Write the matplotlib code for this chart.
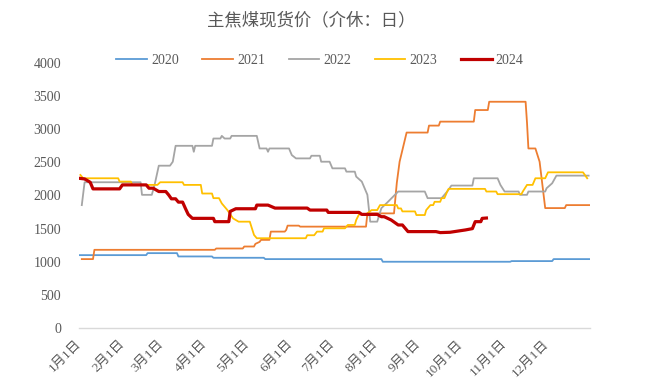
import matplotlib
matplotlib.use('Agg')
import matplotlib.pyplot as plt

# data: (day of year, price)
p2020 = [(0, 1100), (48, 1100), (49, 1130), (70, 1130), (71, 1080), (95, 1080), (96, 1060),
         (132, 1060), (133, 1040), (216, 1040), (217, 1000), (308, 1000), (309, 1010),
         (338, 1010), (339, 1040), (365, 1040)]

p2021 = [(2, 1040), (10, 1040), (11, 1180), (97, 1180), (98, 1200), (117, 1200), (118, 1230),
         (125, 1230), (126, 1270), (129, 1300), (130, 1330), (136, 1330), (137, 1455),
         (147, 1455), (148, 1480), (149, 1545), (157, 1545), (158, 1530), (205, 1530),
         (206, 1730), (225, 1730), (227, 2190), (229, 2510), (234, 2950), (249, 2950),
         (250, 3055), (257, 3055), (258, 3115), (282, 3115), (283, 3290), (292, 3290),
         (293, 3415), (319, 3415), (320, 3100), (321, 2710), (326, 2710), (329, 2510),
         (333, 1810), (347, 1810), (348, 1855), (365, 1855)]

p2022 = [(2, 1855), (4, 2200), (44, 2200), (45, 2010), (52, 2010), (54, 2160), (57, 2450),
         (65, 2450), (67, 2510), (69, 2750), (81, 2750), (82, 2660), (83, 2750), (95, 2750),
         (96, 2860), (101, 2860), (102, 2900), (104, 2860), (108, 2860), (109, 2900),
         (127, 2900), (129, 2710), (134, 2710), (135, 2660), (136, 2710), (150, 2710),
         (152, 2610), (155, 2560), (165, 2560), (166, 2600), (172, 2600), (173, 2510),
         (179, 2510), (181, 2410), (190, 2410), (191, 2360), (197, 2360), (198, 2285),
         (202, 2210), (204, 2110), (206, 2010), (208, 1605), (213, 1605), (216, 1810),
         (220, 1890), (228, 2060), (247, 2060), (249, 1960), (259, 1960), (263, 2060),
         (266, 2150), (281, 2150), (282, 2260), (299, 2260), (301, 2160), (304, 2060),
         (314, 2060), (315, 2010), (320, 2010), (321, 2060), (333, 2060), (334, 2110),
         (338, 2185), (341, 2300), (364, 2300)]

p2023 = [(1, 2310), (3, 2260), (28, 2260), (29, 2210), (37, 2210), (38, 2160), (56, 2160),
         (58, 2200), (74, 2200), (75, 2160), (87, 2160), (88, 2030), (95, 2030), (96, 1960),
         (100, 1960), (102, 1880), (106, 1780), (110, 1655), (114, 1605), (122, 1605),
         (125, 1405), (127, 1355), (162, 1355), (163, 1400), (168, 1400), (170, 1455),
         (174, 1455), (175, 1505), (190, 1505), (192, 1555), (197, 1555), (198, 1630),
         (200, 1715), (205, 1715), (209, 1780), (213, 1780), (215, 1855), (227, 1855),
         (228, 1805), (230, 1805), (231, 1760), (240, 1760), (241, 1705), (247, 1705),
         (248, 1780), (251, 1855), (253, 1855), (254, 1905), (258, 1905), (259, 1960),
         (261, 1960), (263, 2060), (264, 2100), (290, 2100), (291, 2060), (298, 2060),
         (299, 2020), (316, 2020), (317, 2060), (320, 2160), (324, 2160), (326, 2260),
         (333, 2260), (335, 2350), (360, 2350), (363, 2260)]

p2024 = [(0, 2260), (4, 2250), (8, 2200), (10, 2100), (29, 2100), (31, 2160), (48, 2160),
         (50, 2110), (53, 2110), (57, 2060), (62, 2060), (64, 2010), (66, 1950), (69, 1950),
         (71, 1900), (74, 1900), (76, 1805), (78, 1715), (81, 1655), (96, 1655), (97, 1605),
         (107, 1605), (108, 1760), (112, 1800), (126, 1800), (127, 1855), (135, 1855),
         (140, 1810), (163, 1810), (165, 1780), (177, 1780), (178, 1745), (200, 1745),
         (202, 1715), (213, 1715), (216, 1680), (218, 1680), (223, 1630), (228, 1555),
         (231, 1555), (235, 1455), (255, 1455), (258, 1440), (265, 1445), (276, 1480),
         (281, 1500), (283, 1605), (287, 1605), (288, 1655), (291, 1660)]

years = ['2020', '2021', '2022', '2023', '2024']
series = [p2020, p2021, p2022, p2023, p2024]
colors = ['#5B9BD5', '#ED7D31', '#A5A5A5', '#FFC000', '#C00000']
widths = [1.3, 1.3, 1.3, 1.3, 2.3]

month_days = [0, 31, 59, 90, 120, 151, 181, 212, 243, 273, 304, 334]
month_labels = ['%d月1日' % m for m in range(1, 13)]
yticks = list(range(0, 4001, 500))

fonts = ['Liberation Serif', 'Noto Sans CJK SC']
grey = '#595959'

fig = plt.figure(figsize=(6.63, 3.87), dpi=100)
ax = fig.add_axes([79/663, 59/387, 511/663, 265/387])

for yr, pts, c, w in zip(years, series, colors, widths):
    xs = [p[0] for p in pts]
    ys = [p[1] for p in pts]
    ax.plot(xs, ys, color=c, lw=w, label=yr, solid_joinstyle='round')

ax.set_xlim(0, 365)
ax.set_ylim(0, 4000)
ax.set_yticks(yticks)
ax.set_yticklabels([str(v) for v in yticks], family=fonts, fontsize=10, color=grey)
ax.set_xticks(month_days)
ax.set_xticklabels(month_labels, family=fonts, fontsize=9.5, color=grey,
                   rotation=45, ha='right', va='center', rotation_mode='anchor')
ax.tick_params(axis='y', length=0, pad=13)
ax.tick_params(axis='x', length=0, pad=10)

for s in ['top', 'right', 'left']:
    ax.spines[s].set_visible(False)
ax.spines['bottom'].set_color('#D9D9D9')
ax.spines['bottom'].set_linewidth(1.0)

fig.text(311/663, 1 - 21/387, '主焦煤现货价（介休：日）', family=fonts, fontsize=12.5,
         color=grey, ha='center', va='center')

fig.legend(loc='center', bbox_to_anchor=(320/663, 1 - 60/387), ncol=5, frameon=False,
           prop={'family': fonts, 'size': 10}, labelcolor=grey,
           handlelength=2.2, handletextpad=0.3, columnspacing=1.7)

fig.savefig('out.png', dpi=100)
